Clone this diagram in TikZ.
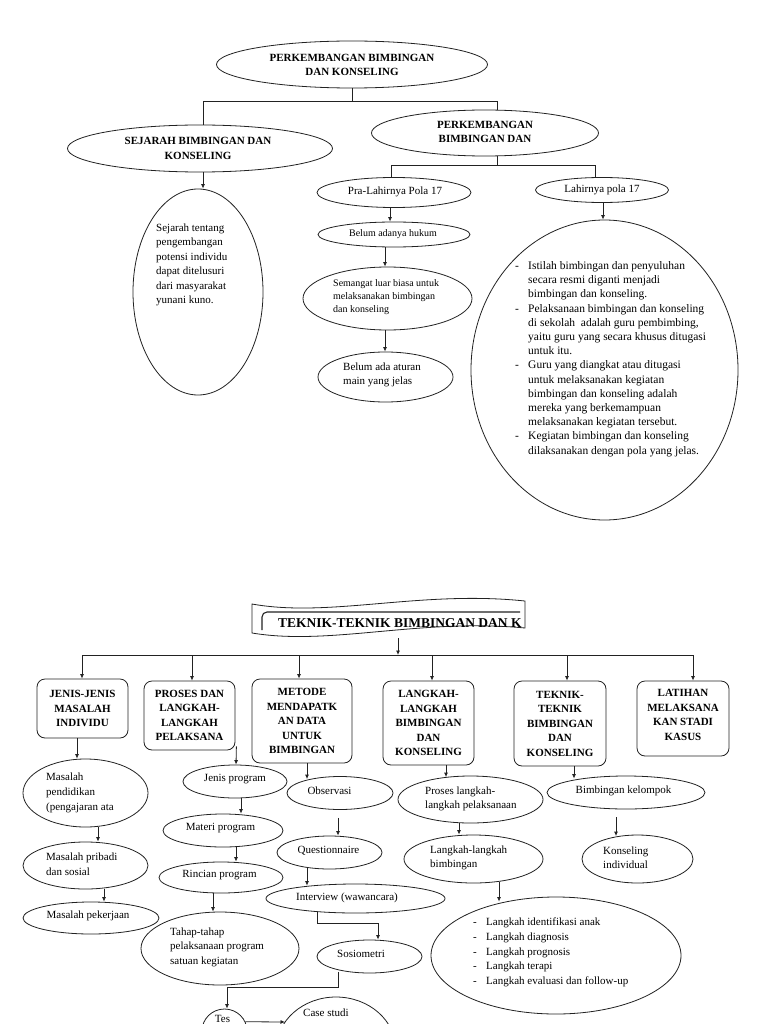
\documentclass[tikz,border=0pt]{standalone}
\usepackage{fontspec}
\setmainfont{Liberation Serif}
\usetikzlibrary{shapes.geometric,arrows.meta,calc}
\definecolor{lc}{HTML}{222222}
\begin{document}
\begin{tikzpicture}[x=1pt,y=-1pt,
  ell/.style={draw=lc, line width=0.8pt, ellipse, inner sep=0pt},
  box/.style={draw=lc, line width=0.8pt, rounded corners=8pt, inner sep=0pt, align=center,
              font=\bfseries\fontsize{11}{14.5}\selectfont},
  btxt/.style={inner sep=0pt, align=center, font=\bfseries\fontsize{11}{14.5}\selectfont},
  txt/.style={inner sep=0pt, align=left, font=\fontsize{11}{14.5}\selectfont},
  stxt/.style={inner sep=0pt, align=left, font=\fontsize{10}{13}\selectfont},
  ln/.style={draw=lc, line width=0.8pt},
  arr/.style={draw=lc, line width=0.8pt, -{Latex[length=4.5pt,width=4pt]}}
]
\useasboundingbox (0,0) rectangle (768,1024);
\fill[white] (0,0) rectangle (768,1024);

% ================= TOP =================
\node[ell, minimum width=271, minimum height=47] (root) at (352,64.5) {};
\node[btxt] (rootT) at (352,65) {PERKEMBANGAN BIMBINGAN\\DAN KONSELING};

\node[ell, minimum width=265, minimum height=47] (sej) at (200,148.5) {};
\node[btxt] (sejH) at (198,148.5) {SEJARAH BIMBINGAN DAN\\KONSELING};

\node[ell, minimum width=227, minimum height=46] (pbd) at (485,133) {};
\node[btxt] (pbdT) at (485,132) {PERKEMBANGAN\\BIMBINGAN DAN};

\coordinate (j1) at (352,101);
\draw[ln] (root.south) -- (j1);
\draw[ln] (j1) -| ([xshift=3pt]sej.north);
\draw[ln] (j1) -| ([xshift=12pt]pbd.north);

\node[ell, minimum width=154, minimum height=30] (pra) at (394,192.5) {};
\node[txt] (praT) at (395,192) {Pra-Lahirnya Pola 17};
\node[ell, minimum width=133, minimum height=25] (lah) at (602,190) {};
\node[txt] (lahT) at (602,190) {Lahirnya pola 17};

\coordinate (j2) at (497,165);
\draw[ln] ([xshift=12pt]pbd.south) -- (j2);
\draw[ln] (j2) -| ([xshift=-3pt]pra.north);
\draw[ln] (j2) -| ([xshift=-7pt]lah.north);

\node[ell, minimum width=152, minimum height=25] (huk) at (394,234.5) {};
\node[stxt] (hukT) at (393,234) {Belum adanya hukum};

\node[ell, minimum width=169, minimum height=63] (sem) at (387.5,298.5) {};
\node[stxt, anchor=west] (semT) at (333,297) {Semangat luar biasa untuk\\melaksanakan bimbingan\\dan konseling};

\node[ell, minimum width=135, minimum height=50] (atur) at (385.5,377) {};
\node[txt, anchor=west, font=\fontsize{11}{14}\selectfont] (aturT) at (343,375) {Belum ada aturan\\main yang jelas};

\node[ell, minimum width=130, minimum height=206] (sejT) at (198,292) {};
\node[txt, anchor=west] (sejTT) at (156,265) {Sejarah tentang\\pengembangan\\potensi individu\\dapat ditelusuri\\dari masyarakat\\yunani kuno.};

\node[ell, minimum width=267, minimum height=300] (big) at (604.5,370) {};
\node[txt, anchor=west, font=\fontsize{11.5}{14.2}\selectfont] (bigT) at (515,359) {%
\makebox[13pt][l]{-}Istilah bimbingan dan penyuluhan\\
\hspace*{13pt}secara resmi diganti menjadi\\
\hspace*{13pt}bimbingan dan konseling.\\
\makebox[13pt][l]{-}Pelaksanaan bimbingan dan konseling\\
\hspace*{13pt}di sekolah\ \ adalah guru pembimbing,\\
\hspace*{13pt}yaitu guru yang secara khusus ditugasi\\
\hspace*{13pt}untuk itu.\\
\makebox[13pt][l]{-}Guru yang diangkat atau ditugasi\\
\hspace*{13pt}untuk melaksanakan kegiatan\\
\hspace*{13pt}bimbingan dan konseling adalah\\
\hspace*{13pt}mereka yang berkemampuan\\
\hspace*{13pt}melaksanakan kegiatan tersebut.\\
\makebox[13pt][l]{-}Kegiatan bimbingan dan konseling\\
\hspace*{13pt}dilaksanakan dengan pola yang jelas.};

\draw[arr] ([xshift=-4pt]pra.south) -- ([xshift=-4pt]huk.north);
\draw[arr] ([xshift=-9pt]huk.south) -- ([xshift=-2.5pt]sem.north);
\draw[arr] ([xshift=-2.5pt]sem.south) -- ([xshift=-0.5pt]atur.north);
\draw[arr] ([xshift=3pt]sej.south) -- ([xshift=5pt]sejT.north);
\draw[arr] ([xshift=1pt]lah.south) -- ([xshift=-1.5pt]big.north);

% ================= BOTTOM =================
% banner
\draw[ln, fill=white] (252,604) .. controls (330,618) and (420,590) .. (525,601)
  -- (525,628) .. controls (420,618) and (330,646) .. (252,633) -- cycle;
\draw[ln, line width=1.1pt, rounded corners=5pt] (262,630) -- (262,612) -- (520,612);
\node[inner sep=0pt, anchor=west, font=\bfseries\fontsize{13.5}{16}\selectfont] (title) at (278,623.5) {TEKNIK-TEKNIK BIMBINGAN DAN K};
\coordinate (banB) at (398,638);

\coordinate (h1) at (82,655);
\coordinate (h2) at (192,655);
\coordinate (h3) at (299,655);
\coordinate (h4) at (432,655);
\coordinate (h5) at (567,655);
\coordinate (h6) at (693,655);
\draw[ln] (h1) -- (h6);
\draw[arr] (banB) -- (banB |- h1);

\node[box, minimum width=91, minimum height=59] (b1) at (82.5,708.5) {JENIS-JENIS\\MASALAH\\INDIVIDU};
\node[box, minimum width=91, minimum height=69] (b2) at (189.5,715.5) {PROSES DAN\\LANGKAH-\\LANGKAH\\PELAKSANA};
\node[box, minimum width=100, minimum height=84] (b3) at (302,721) {METODE\\MENDAPATK\\AN DATA\\UNTUK\\BIMBINGAN};
\node[box, minimum width=91, minimum height=84] (b4) at (428.5,723) {LANGKAH-\\LANGKAH\\BIMBINGAN\\DAN\\KONSELING};
\node[box, minimum width=92, minimum height=85] (b5) at (560,723.5) {TEKNIK-\\TEKNIK\\BIMBINGAN\\DAN\\KONSELING};
\node[box, minimum width=92, minimum height=75] (b6) at (683,718.5) {};
\node[btxt] (b6T) at (683,715) {LATIHAN\\MELAKSANA\\KAN STADI\\KASUS};

\draw[arr] (h1) -- (h1 |- b1.north);
\draw[arr] (h2) -- (h2 |- b2.north);
\draw[arr] (h3) -- (h3 |- b3.north);
\draw[arr] (h4) -- (h4 |- b4.north);
\draw[arr] (h5) -- (h5 |- b5.north);
\draw[arr] (h6) -- (h6 |- b6.north);

% column 1
\node[ell, minimum width=125, minimum height=68] (mp) at (85.5,793) {};
\node[txt, anchor=west, font=\fontsize{11}{15}\selectfont] (mpT) at (46,793) {Masalah\\pendidikan\\(pengajaran ata};
\node[ell, minimum width=125, minimum height=47] (mps) at (85.5,865.5) {};
\node[txt, anchor=west, font=\fontsize{11}{15}\selectfont] (mpsT) at (46,864.5) {Masalah pribadi\\dan sosial};
\node[ell, minimum width=136, minimum height=32] (mpk) at (91,918) {};
\node[txt] (mpkT) at (88,915.5) {Masalah pekerjaan};

\draw[arr] ([xshift=-5.5pt]b1.south) -- ([xshift=-8.5pt]mp.north);
\draw[arr] ([xshift=12.5pt]mp.south) -- ([xshift=12.5pt]mps.north);
\draw[arr] ([xshift=18.5pt]mps.south) -- ([xshift=13pt]mpk.north);

% column 2
\node[ell, minimum width=104, minimum height=33] (jp) at (235,781.5) {};
\node[txt] (jpT) at (235,779) {Jenis program};
\node[ell, minimum width=120, minimum height=33] (mat) at (223,830.5) {};
\node[txt] (matT) at (220.5,828.5) {Materi program};
\node[ell, minimum width=124, minimum height=31] (rin) at (221,877.5) {};
\node[txt] (rinT) at (219.5,875.5) {Rincian program};
\node[ell, minimum width=158, minimum height=73] (tah) at (220,948.5) {};
\node[txt, anchor=west] (tahT) at (170,947) {Tahap-tahap\\pelaksanaan program\\satuan kegiatan};

\draw[arr] ([xshift=1pt,yshift=4pt]b2.south east) -- ([xshift=1pt]jp.north);
\draw[arr] ([xshift=6pt]jp.south) -- ([xshift=18pt]mat.north);
\draw[arr] ([xshift=13pt]mat.south) -- ([xshift=15pt]rin.north);
\draw[arr] ([xshift=-8pt]rin.south) -- ([xshift=-7pt]tah.north);

% column 3
\node[ell, minimum width=106, minimum height=33] (obs) at (340,793) {};
\node[txt] (obsT) at (329.5,790.5) {Observasi};
\node[ell, minimum width=105, minimum height=33] (que) at (329.5,852.5) {};
\node[txt] (queT) at (328.5,850.5) {Questionnaire};
\node[ell, minimum width=179, minimum height=29] (int) at (355.5,898.5) {};
\node[txt] (intT) at (347,897.5) {Interview (wawancara)};
\node[ell, minimum width=105, minimum height=33] (sos) at (369.5,956.5) {};
\node[txt] (sosT) at (361,953.5) {Sosiometri};
\node[ell, minimum width=45, minimum height=44] (tes) at (224.5,1031) {};
\node[txt] (tesT) at (222.5,1018.5) {Tes};
\node[ell, minimum width=120, minimum height=106] (cs) at (336,1050) {};
\node[txt, anchor=west] (csT) at (303,1013) {Case studi};

\draw[arr] ([xshift=5pt]b3.south) -- ([xshift=-33pt,yshift=-3pt]obs.north);
\draw[arr] ([xshift=-2pt,yshift=-8pt]obs.south) -- ([xshift=8.5pt]que.north);
\draw[arr] ([xshift=-22.5pt,yshift=1.5pt]que.south) -- ([xshift=-48.5pt,yshift=-2pt]int.north);
\draw[arr] ([xshift=-38.5pt,yshift=1.5pt]int.south) -- ++(0,11) -| ([xshift=8.5pt]sos.north);
\draw[arr] ([xshift=-31.5pt,yshift=1.5pt]sos.south) -- ++(0,15) -| ([xshift=2.5pt]tes.north);
\draw[arr] (tes.24) -- ([xshift=-51pt,yshift=28pt]cs.center);

% column 4
\node[ell, minimum width=145, minimum height=47] (pl) at (470.5,799.5) {};
\node[txt, anchor=west, font=\fontsize{11}{14}\selectfont] (plT) at (425,799) {Proses langkah-\\langkah pelaksanaan};
\node[ell, minimum width=139, minimum height=48] (llb) at (473.5,859) {};
\node[txt, anchor=west, font=\fontsize{11}{14}\selectfont] (llbT) at (430,858) {Langkah-langkah\\bimbingan};
\node[ell, minimum width=250, minimum height=117] (lst) at (556,955.5) {};
\node[txt, anchor=west, font=\fontsize{11}{14.75}\selectfont] (lstT) at (473,952.5) {%
\makebox[13pt][l]{-}Langkah identifikasi anak\\
\makebox[13pt][l]{-}Langkah diagnosis\\
\makebox[13pt][l]{-}Langkah prognosis\\
\makebox[13pt][l]{-}Langkah terapi\\
\makebox[13pt][l]{-}Langkah evaluasi dan follow-up};

\draw[arr] ([xshift=17.5pt]b4.south) -- ([xshift=-24.5pt,yshift=-1.5pt]pl.north);
\draw[arr] ([xshift=-11.5pt]pl.south) -- ([xshift=-14.5pt]llb.north);
\draw[arr] ([xshift=25.5pt,yshift=1.5pt]llb.south) -- ([xshift=-57pt,yshift=-5pt]lst.north);

% column 5
\node[ell, minimum width=158, minimum height=33] (bk) at (626,792.5) {};
\node[txt] (bkT) at (623.5,790.5) {Bimbingan kelompok};
\node[ell, minimum width=111, minimum height=48] (ki) at (637.5,859) {};
\node[txt, anchor=west, font=\fontsize{11}{14}\selectfont] (kiT) at (603,858) {Konseling\\individual};

\draw[arr] ([xshift=14pt]b5.south) -- ([xshift=-52pt,yshift=-3pt]bk.north);
\draw[arr] ([xshift=-10pt,yshift=-8pt]bk.south) -- ([xshift=-21.5pt,yshift=-1.5pt]ki.north);

\end{tikzpicture}
\end{document}
